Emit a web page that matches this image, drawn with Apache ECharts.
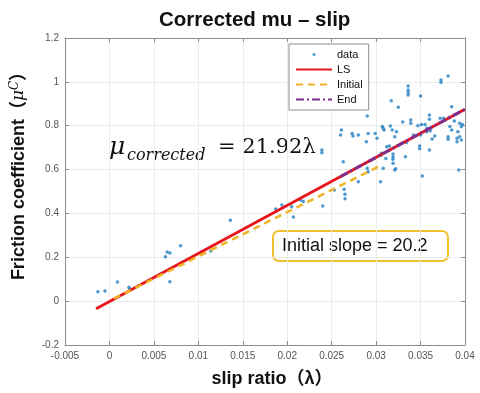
<!DOCTYPE html>
<html>
<head>
<meta charset="utf-8">
<script src="https://cdn.jsdelivr.net/npm/echarts@6/dist/echarts.min.js"></script>
<style>
  html, body { margin: 0; background: #fff; }
  #chart { width: 480px; height: 393px; }
</style>
</head>
<body>
<div id="chart"></div>
<script>
// measured samples (slip ratio, corrected friction)
const slipRatio = [
  -0.0013, -0.0005, 0.0009, 0.0022, 0.0023, 0.0063, 0.0065, 0.0068, 0.0080, 0.0068,
  0.0114, 0.0136, 0.0187, 0.0194, 0.0207, 0.0205, 0.0215, 0.0218, 0.0240, 0.0253,
  0.0264, 0.0265, 0.0265, 0.0263, 0.0280, 0.0290, 0.0291, 0.0305, 0.0289, 0.0261,
  0.0260, 0.0273, 0.0274, 0.0280, 0.0291, 0.0299, 0.0301, 0.0290, 0.0307, 0.0309,
  0.0318, 0.0323, 0.0321, 0.0312, 0.0306, 0.0311, 0.0319, 0.0321, 0.0308, 0.0239,
  0.0239, 0.0381, 0.0373, 0.0373, 0.0336, 0.0336, 0.0336, 0.0336, 0.0350, 0.0317,
  0.0325, 0.0385, 0.0360, 0.0360, 0.0339, 0.0339, 0.0330, 0.0351, 0.0355, 0.0372,
  0.0376, 0.0382, 0.0388, 0.0394, 0.0397, 0.0308, 0.0316, 0.0347, 0.0357, 0.0357,
  0.0361, 0.0383, 0.0385, 0.0392, 0.0396, 0.0342, 0.0350, 0.0363, 0.0366, 0.0381,
  0.0381, 0.0391, 0.0391, 0.0334, 0.0315, 0.0319, 0.0319, 0.0319, 0.0333, 0.0349,
  0.0349, 0.0360, 0.0306, 0.0322, 0.0352, 0.0393, 0.0394, 0.0396
];
const friction = [
  0.043, 0.046, 0.087, 0.063, 0.054, 0.203, 0.224, 0.220, 0.253, 0.089,
  0.229, 0.369, 0.420, 0.438, 0.384, 0.431, 0.461, 0.454, 0.434, 0.507,
  0.510, 0.487, 0.467, 0.636, 0.545, 0.606, 0.590, 0.545, 0.727, 0.780,
  0.758, 0.765, 0.753, 0.758, 0.765, 0.765, 0.743, 0.844, 0.796, 0.780,
  0.780, 0.773, 0.750, 0.704, 0.674, 0.651, 0.629, 0.598, 0.606, 0.689,
  0.677, 1.027, 1.008, 0.998, 0.981, 0.963, 0.952, 0.940, 0.936, 0.914,
  0.884, 0.887, 0.849, 0.829, 0.826, 0.811, 0.817, 0.806, 0.806, 0.834,
  0.834, 0.838, 0.822, 0.811, 0.806, 0.788, 0.799, 0.800, 0.788, 0.773,
  0.777, 0.796, 0.780, 0.773, 0.796, 0.758, 0.758, 0.739, 0.753, 0.750,
  0.738, 0.743, 0.727, 0.724, 0.708, 0.671, 0.659, 0.647, 0.659, 0.708,
  0.695, 0.689, 0.666, 0.604, 0.571, 0.598, 0.750, 0.735
];

// fitted lines, end points
const lsX = [-0.0015, 0.04];
const lsY = [-0.035, 0.875];
const initialX = [0.0005, 0.0305];
const initialY = [0.012, 0.618];
const endX = [0.026, 0.04];
const endY = [0.568, 0.875];

const seriesNames = ['data', 'LS', 'Initial', 'End'];
const xTicks = { min: -0.005, max: 0.04, step: 0.005 };
const yTicks = { min: -0.2, max: 1.2, step: 0.2 };

const pairs = (xs, ys) => xs.map((x, i) => [x, ys[i]]);

const SANS = '"Liberation Sans", Arial, "Noto Sans CJK SC", sans-serif';
const SERIF = '"DejaVu Serif", "Liberation Serif", serif';
const AXIS_GRAY = '#8c8c8c';

const chart = echarts.init(document.getElementById('chart'), null, { renderer: 'canvas' });

const boxAxis = (position, t) => ({
  type: 'value', position, min: t.min, max: t.max, interval: t.step,
  axisLine: { show: true, onZero: false, lineStyle: { color: AXIS_GRAY } },
  axisTick: { show: true, inside: true, length: 4, lineStyle: { color: AXIS_GRAY } },
  axisLabel: { show: false },
  splitLine: { show: false },
});

// line legend entries: keep the stroke, hide the marker
const lineLegend = (name) => ({ name, itemStyle: { opacity: 0 } });

chart.setOption({
  animation: false,
  backgroundColor: '#fff',
  title: {
    text: 'Corrected mu \u2013 slip',
    left: 154, top: 5,
    textStyle: { fontFamily: SANS, fontSize: 20.5, fontWeight: 'bold', color: '#111' },
  },
  grid: { left: 65, right: 15, top: 38, bottom: 48 },
  legend: {
    orient: 'vertical', left: 289, top: 44,
    itemWidth: 36, itemHeight: 8, itemGap: 4,
    padding: [5, 6, 5, 6],
    borderColor: AXIS_GRAY, borderWidth: 1, borderRadius: 0,
    backgroundColor: '#fff',
    textStyle: { fontFamily: SANS, fontSize: 11, color: '#111' },
    data: [
      { name: seriesNames[0], icon: 'path://M0,0M36,8M16.5,4a1.5,1.5 0 1 0 3,0a1.5,1.5 0 1 0 -3,0z' },
      lineLegend(seriesNames[1]), lineLegend(seriesNames[2]), lineLegend(seriesNames[3]),
    ],
  },
  xAxis: [
    {
      type: 'value', position: 'bottom',
      min: xTicks.min, max: xTicks.max, interval: xTicks.step,
      axisLine: { show: true, onZero: false, lineStyle: { color: AXIS_GRAY } },
      axisTick: { show: true, inside: true, length: 4, lineStyle: { color: AXIS_GRAY } },
      axisLabel: {
        color: '#555', fontSize: 10, fontFamily: SANS, margin: 6,
        formatter: (v) => String(+v.toFixed(3)),
      },
      splitLine: { show: true, lineStyle: { color: '#ebebeb' } },
      name: 'slip ratio\uff08\u03bb\uff09',
      nameLocation: 'middle', nameGap: 25,
      nameTextStyle: {
        fontFamily: SANS, fontSize: 18, fontWeight: 'bold', color: '#111',
        padding: [0, 0, 0, 14],
      },
    },
    boxAxis('top', xTicks),
  ],
  yAxis: [
    {
      type: 'value', position: 'left',
      min: yTicks.min, max: yTicks.max, interval: yTicks.step,
      axisLine: { show: true, onZero: false, lineStyle: { color: AXIS_GRAY } },
      axisTick: { show: true, inside: true, length: 4, lineStyle: { color: AXIS_GRAY } },
      axisLabel: {
        color: '#555', fontSize: 10, fontFamily: SANS, margin: 6,
        formatter: (v) => String(+v.toFixed(1)),
      },
      splitLine: { show: true, lineStyle: { color: '#ebebeb' } },
      name: '{a|Friction coefficient\uff08}{m|\u03bc}{s|C}{a|\uff09}',
      nameLocation: 'middle', nameGap: 36, nameRotate: 90,
      nameTextStyle: {
        padding: [0, 0, 0, 40],
        rich: {
          a: { fontFamily: SANS, fontSize: 18, fontWeight: 'bold', color: '#111' },
          m: { fontFamily: SERIF, fontSize: 17, fontStyle: 'italic', color: '#111' },
          s: { fontFamily: SERIF, fontSize: 12, fontStyle: 'italic', color: '#111', verticalAlign: 'top', padding: [0, 0, 8, 0] },
        },
      },
    },
    boxAxis('right', yTicks),
  ],
  series: [
    {
      name: seriesNames[0], type: 'scatter',
      data: pairs(slipRatio, friction),
      symbol: 'circle', symbolSize: 3.5,
      itemStyle: { color: '#1f7fc4' },
    },
    {
      name: seriesNames[1], type: 'line',
      data: pairs(lsX, lsY), symbol: 'none',
      lineStyle: { color: '#e8141c', width: 2.8 },
      itemStyle: { color: '#e8141c' },
    },
    {
      name: seriesNames[2], type: 'line',
      data: pairs(initialX, initialY), symbol: 'none',
      lineStyle: { color: '#f0b323', width: 2.5, type: [7, 5] },
      itemStyle: { color: '#f0b323' },
    },
    {
      name: seriesNames[3], type: 'line',
      data: pairs(endX, endY), symbol: 'none',
      lineStyle: { color: '#7e2f8e', width: 3, type: [8, 3, 2, 3] },
      itemStyle: { color: '#7e2f8e' },
    },
  ],
  graphic: [
    { type: 'text', left: 109, top: 135,
      style: { text: '\u03bc', font: 'italic 25px ' + SERIF, fill: '#111' } },
    { type: 'text', left: 127, top: 148,
      style: { text: 'corrected', font: 'italic 16px ' + SERIF, fill: '#111' } },
    { type: 'text', left: 218, top: 137,
      style: { text: '= 21.92\u03bb', font: '21px ' + SERIF, fill: '#111' } },
    { type: 'rect', left: 272, top: 230,
      shape: { width: 175, height: 30, r: 6 },
      style: { fill: '#fff', stroke: '#f2c12e', lineWidth: 2 } },
    { type: 'text', left: 282, top: 237,
      style: { text: 'Initial slope = 20.2', font: '18px ' + SANS, fill: '#111' } },
  ],
});
</script>
</body>
</html>
